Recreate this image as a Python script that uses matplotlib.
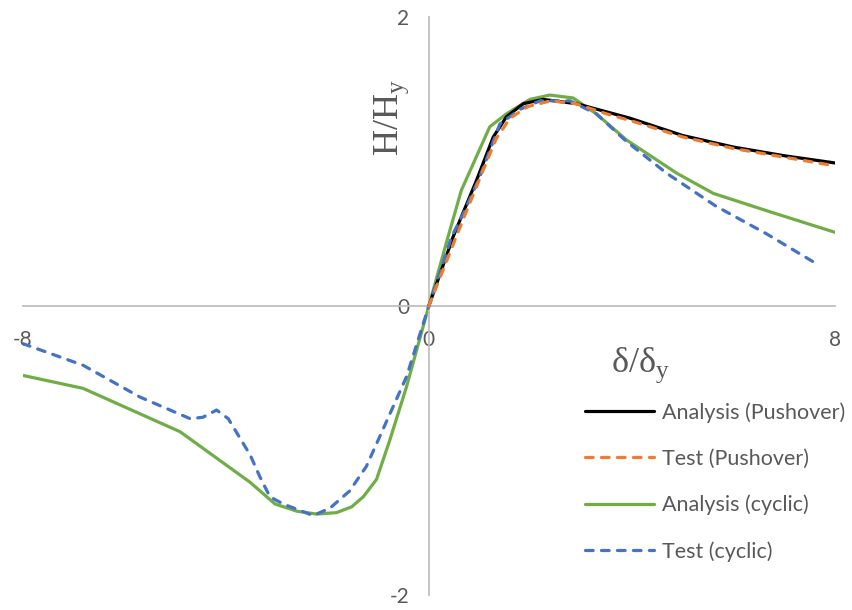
import matplotlib.pyplot as plt

plt.rcParams["axes.unicode_minus"] = False

# Normalised lateral load vs. normalised drift (backbone curves)
push_ana_x = [0, 0.48, 0.94, 1.27, 1.53, 1.86, 2.25, 2.91, 3.96, 5.0, 6.0, 7.0, 8.0]
push_ana_y = [0, 0.48, 0.87, 1.17, 1.31, 1.40, 1.43, 1.40, 1.30, 1.18, 1.10, 1.04, 0.99]

push_test_x = [0, 0.54, 1.07, 1.33, 1.6, 1.95, 2.4, 2.9, 3.5, 4.0, 5.0, 6.0, 7.0, 8.0]
push_test_y = [0, 0.48, 0.94, 1.16, 1.30, 1.38, 1.42, 1.40, 1.33, 1.28, 1.17, 1.09, 1.03, 0.97]

cyc_ana_x = [-8, -6.81, -4.9, -3.52, -3.03, -2.6, -2.21, -1.82, -1.52, -1.29, -1.03,
             -0.77, -0.44, 0,
             0.38, 0.64, 1.2, 1.53, 1.99, 2.38, 2.84, 3.30, 3.89, 4.88, 5.6, 6.65, 8.0]
cyc_ana_y = [-0.48, -0.57, -0.87, -1.22, -1.37, -1.42, -1.44, -1.43, -1.39, -1.32, -1.20,
             -0.93, -0.56, 0,
             0.48, 0.80, 1.24, 1.33, 1.43, 1.46, 1.44, 1.33, 1.15, 0.92, 0.78, 0.66, 0.51]

cyc_test_x = [-8, -6.81, -5.69, -4.7, -4.45, -4.18, -3.95, -3.52, -3.33, -3.13, -2.87,
              -2.28, -1.95, -1.56, -1.23, -1.0, -0.44, 0,
              0.45, 0.68, 1.0, 1.4, 1.79, 2.19, 2.78, 3.3, 3.89, 4.68, 5.66, 6.65, 7.6]
cyc_test_y = [-0.26, -0.41, -0.63, -0.78, -0.77, -0.72, -0.78, -1.03, -1.18, -1.32, -1.37,
              -1.45, -1.40, -1.28, -1.11, -0.93, -0.49, 0,
              0.48, 0.64, 0.89, 1.26, 1.36, 1.42, 1.42, 1.33, 1.14, 0.92, 0.69, 0.50, 0.30]

x_ticks = [-8, 0, 8]
y_ticks = [-2, 0, 2]

GREY = "#595959"
TICK_FONT = "Lato"
LW = 2.3
DASH = (2.4, 2.6)

fig = plt.figure(figsize=(8.52, 6.1), dpi=100)
ax = fig.add_axes([0.0266, 0.0246, 0.9534, 0.9475])

ax.plot(push_ana_x, push_ana_y, color="#000000", lw=LW, label="Analysis (Pushover)",
        solid_capstyle="round", solid_joinstyle="round", zorder=3)
ax.plot(push_test_x, push_test_y, color="#ED7D31", lw=LW, dashes=DASH,
        dash_capstyle="round", label="Test (Pushover)", zorder=4)
ax.plot(cyc_ana_x, cyc_ana_y, color="#70AD47", lw=LW, label="Analysis (cyclic)",
        solid_capstyle="round", solid_joinstyle="round", zorder=2)
ax.plot(cyc_test_x, cyc_test_y, color="#4472C4", lw=LW, dashes=DASH,
        dash_capstyle="round", label="Test (cyclic)", zorder=3)

ax.set_xlim(-8, 8)
ax.set_ylim(-2, 2)
ax.set_xticks(x_ticks)
ax.set_yticks(y_ticks)
ax.patch.set_visible(False)

for side in ["top", "right"]:
    ax.spines[side].set_visible(False)
ax.spines["left"].set_position(("data", 0))
ax.spines["bottom"].set_position(("data", 0))
for side in ["left", "bottom"]:
    ax.spines[side].set_color("#BFBFBF")
    ax.spines[side].set_linewidth(1.3)

ax.tick_params(length=0, labelsize=15, labelcolor=GREY)
ax.tick_params(axis="x", pad=17)
ax.tick_params(axis="y", pad=14)
for lab in ax.get_xticklabels() + ax.get_yticklabels():
    lab.set_family(TICK_FONT)

fig.text(392 / 852, 1 - 117 / 610, "H/H$_{\\mathregular{y}}$", rotation=90, fontsize=26,
         color=GREY, family="Liberation Serif", ha="center", va="center")
fig.text(640 / 852, 1 - 365 / 610, "δ/δ$_{\\mathregular{y}}$", fontsize=26, color=GREY,
         family="Liberation Serif", ha="center", va="center")

leg = ax.legend(loc="center left", bbox_to_anchor=(585 / 852, 1 - 482 / 610),
                bbox_transform=fig.transFigure, frameon=False, borderpad=0,
                borderaxespad=0, handlelength=3.2, handletextpad=0.4,
                labelspacing=1.2, prop={"family": TICK_FONT, "size": 15.5})
for t in leg.get_texts():
    t.set_color(GREY)

fig.savefig("out.png", dpi=100)
